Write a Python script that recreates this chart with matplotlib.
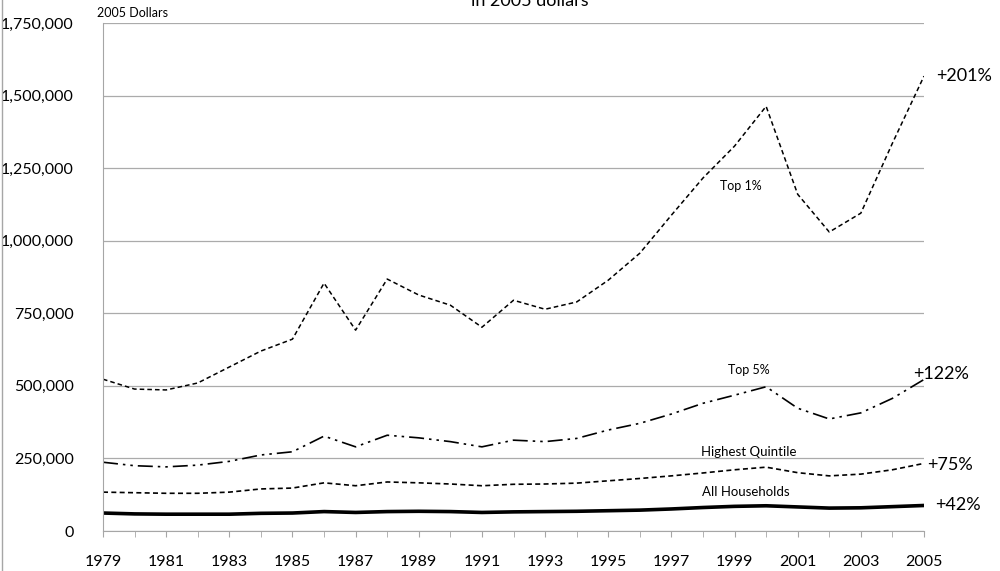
import matplotlib.pyplot as plt
from matplotlib.lines import Line2D
from matplotlib.ticker import FuncFormatter

plt.rcParams['font.family'] = ['Lato', 'DejaVu Sans']

# Average after-tax household income, 2005 dollars
years = list(range(1979, 2006))
top1 = [523000, 489000, 486000, 510000, 565000, 620000, 661000, 854000, 692000,
        868000, 813000, 778000, 702000, 795000, 764000, 789000, 864000, 957000,
        1088000, 1216000, 1326000, 1463000, 1160000, 1030000, 1095000, 1336000, 1567000]
top5 = [237000, 225000, 221000, 227000, 240000, 262000, 273000, 327000, 290000,
        330000, 321000, 308000, 290000, 313000, 308000, 319000, 348000, 371000,
        403000, 440000, 468000, 497000, 423000, 386000, 407000, 457000, 522000]
quintile = [134000, 132000, 130000, 130000, 134000, 145000, 148000, 166000, 156000,
            169000, 166000, 162000, 156000, 161000, 162000, 165000, 173000, 181000,
            190000, 200000, 211000, 220000, 201000, 190000, 196000, 211000, 233000]
all_hh = [62000, 59000, 58000, 58000, 58000, 61000, 62000, 67000, 64000,
          67000, 68000, 67000, 64000, 66000, 67000, 68000, 70000, 72000,
          76000, 81000, 85000, 87000, 83000, 79000, 80000, 84000, 88000]

fig = plt.figure(figsize=(10, 5.71), dpi=100)
ax = fig.add_axes([0.103, 0.070, 0.821, 0.8897])

ax.plot(years, top1, color='black', lw=1.1, dashes=(3, 2))
ax.plot(years, top5, color='black', lw=1.2, dashes=(9, 3, 1.5, 3, 1.5, 3))
ax.plot(years, quintile, color='black', lw=1.2, dashes=(3, 2))
ax.plot(years, all_hh, color='black', lw=2.6)

ax.set_xlim(1979, 2005)
ax.set_ylim(0, 1750000)
ax.set_yticks(range(0, 1750001, 250000))
ax.yaxis.set_major_formatter(FuncFormatter(lambda v, p: '{:,.0f}'.format(v)))
ax.set_xticks(range(1979, 2006, 2))
ax.set_xticks(range(1979, 2006), minor=True)
ax.grid(axis='y', color='#ababab', lw=0.9)
ax.set_axisbelow(True)

for s in ['top', 'right']:
    ax.spines[s].set_visible(False)
for s in ['left', 'bottom']:
    ax.spines[s].set_color('#a6a6a6')
ax.tick_params(axis='y', length=0, pad=21, labelsize=11.5)
ax.tick_params(axis='x', which='both', direction='out', length=4, color='#a6a6a6',
               pad=13, labelsize=11.5)

ax.text(1979 - 0.2, 1765000, '2005 Dollars', fontsize=9, va='bottom', ha='left')
ax.text(1999.2, 1188000, 'Top 1%', fontsize=9, ha='center', va='center')
ax.text(1999.46, 554000, 'Top 5%', fontsize=9, ha='center', va='center')
ax.text(1999.46, 272000, 'Highest Quintile', fontsize=9.5, ha='center', va='center')
ax.text(1999.36, 134000, 'All Households', fontsize=9.5, ha='center', va='center')
ax.text(2005.38, 1567000, '+201%', fontsize=13, ha='left', va='center', clip_on=False)
ax.text(2004.65, 541000, '+122%', fontsize=13, ha='left', va='center', clip_on=False)
ax.text(2005.09, 227000, '+75%', fontsize=13, ha='left', va='center', clip_on=False)
ax.text(2005.34, 90000, '+42%', fontsize=13, ha='left', va='center', clip_on=False)

# title is cut off at the top edge in the source, only its last line shows
fig.text(0.53, 0.989, 'in 2005 dollars', fontsize=13, ha='center', va='baseline')

fig.add_artist(Line2D([0.002, 0.002], [0, 1], color='#a6a6a6', lw=1))

fig.savefig('out.png', dpi=100)
